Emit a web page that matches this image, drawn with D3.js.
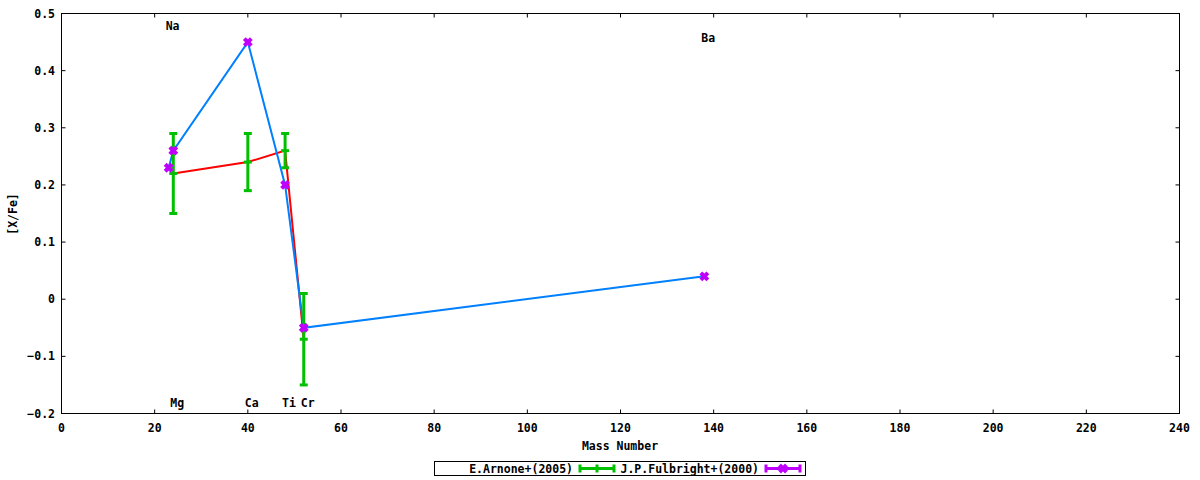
<!DOCTYPE html>
<html><head><meta charset="utf-8">
<script src="https://cdn.jsdelivr.net/npm/d3@7"></script>
<style>
body{margin:0;background:#fff;}
text{font-family:"DejaVu Sans Mono",monospace;font-weight:bold;font-size:11.5px;fill:#000;}
</style></head><body>
<svg id="c" width="1200" height="480"></svg>
<script>
// Data
const arnoneMass = [24, 40, 48, 52];
const arnoneVal  = [0.22, 0.24, 0.26, -0.07];
const arnoneErr  = [0.07, 0.05, 0.03, 0.08];
const fulbrightMass = [23, 24, 40, 48, 52, 138];
const fulbrightVal  = [0.23, 0.26, 0.45, 0.20, -0.05, 0.04];
const elemNames = ["Na", "Mg", "Ca", "Ti", "Cr", "Ba"];
const elemMass  = [23, 24, 40, 48, 52, 138];
const elemLabelY = [0.478, -0.182, -0.182, -0.182, -0.182, 0.457];
const xTicks = [0,20,40,60,80,100,120,140,160,180,200,220,240];
const yTicks = [-0.2,-0.1,0,0.1,0.2,0.3,0.4,0.5];
const seriesNames = ["E.Arnone+(2005)", "J.P.Fulbright+(2000)"];

const L=61.5, R=1179.5, T=13.5, B=413.5;
const svg = d3.select("#c");
const x = d3.scaleLinear().domain([0,240]).range([L,R]);
const y = d3.scaleLinear().domain([-0.2,0.5]).range([B,T]);

const GREEN="#00c000", RED="#ff0000", BLUE="#0080ff", MAG="#c000ff";

// ticks (inward, mirrored)
const tl=4;
const g = svg.append("g");
xTicks.forEach(t=>{
  g.append("line").attr("x1",x(t)).attr("x2",x(t)).attr("y1",B).attr("y2",B-tl).attr("stroke","#000");
  g.append("line").attr("x1",x(t)).attr("x2",x(t)).attr("y1",T).attr("y2",T+tl).attr("stroke","#000");
  g.append("text").attr("x",x(t)).attr("y",432).attr("text-anchor","middle").text(d3.format("d")(t));
});
yTicks.forEach(t=>{
  g.append("line").attr("x1",L).attr("x2",L+tl).attr("y1",y(t)).attr("y2",y(t)).attr("stroke","#000");
  g.append("line").attr("x1",R).attr("x2",R-tl).attr("y1",y(t)).attr("y2",y(t)).attr("stroke","#000");
  const s = t===0 ? "0" : d3.format(".1f")(t);
  g.append("text").attr("x",55).attr("y",y(t)+4).attr("text-anchor","end").text(s);
});

// labels
svg.append("text").attr("x",620).attr("y",450).attr("text-anchor","middle").text("Mass Number");
svg.append("text").attr("transform","translate(17,214) rotate(-90)").attr("text-anchor","middle").text("[X/Fe]");

// element labels
elemNames.forEach((n,i)=>{
  svg.append("text").attr("x",x(elemMass[i])-3).attr("y",y(elemLabelY[i])).attr("dominant-baseline","central").text(n);
});

const line = d3.line().x(d=>x(d[0])).y(d=>y(d[1]));
// Arnone line (red)
const aPts = arnoneMass.map((m,i)=>[m,arnoneVal[i]]);
svg.append("path").attr("d",line(aPts)).attr("fill","none").attr("stroke",RED).attr("stroke-width",2);
// Fulbright line (blue)
const fPts = fulbrightMass.map((m,i)=>[m,fulbrightVal[i]]);
svg.append("path").attr("d",line(fPts)).attr("fill","none").attr("stroke",BLUE).attr("stroke-width",2);

// error bars (green)
const eb = svg.append("g").attr("stroke",GREEN).attr("stroke-width",3);
arnoneMass.forEach((m,i)=>{
  const cx=x(m), y1=y(arnoneVal[i]+arnoneErr[i]), y2=y(arnoneVal[i]-arnoneErr[i]), yc=y(arnoneVal[i]);
  eb.append("line").attr("x1",cx).attr("x2",cx).attr("y1",y1).attr("y2",y2);
  [y1,y2,yc].forEach(yy=>eb.append("line").attr("x1",cx-4).attr("x2",cx+4).attr("y1",yy).attr("y2",yy));
});

// Fulbright markers
function xMark(sel,cx,cy){
  sel.append("path").attr("d",`M${cx-3.5},${cy-3.5}L${cx+3.5},${cy+3.5}M${cx-3.5},${cy+3.5}L${cx+3.5},${cy-3.5}`)
    .attr("stroke",MAG).attr("stroke-width",4).attr("fill","none");
  sel.append("rect").attr("x",cx-2.5).attr("y",cy-2.5).attr("width",5).attr("height",5).attr("fill",MAG);
}
fulbrightMass.forEach((m,i)=>xMark(svg,x(m),y(fulbrightVal[i])));

// frame
svg.append("rect").attr("x",L).attr("y",T).attr("width",R-L).attr("height",B-T).attr("fill","none").attr("stroke","#000").attr("stroke-width",1);

// legend
const lg = svg.append("g");
lg.append("rect").attr("x",434.5).attr("y",461.5).attr("width",371).attr("height",14).attr("fill","none").attr("stroke","#000");
lg.append("text").attr("x",573).attr("y",472.5).attr("text-anchor","end").text(seriesNames[0]);
lg.append("line").attr("x1",580).attr("x2",614).attr("y1",468.5).attr("y2",468.5).attr("stroke",GREEN).attr("stroke-width",3);
[580,597,614].forEach(xx=>lg.append("line").attr("x1",xx).attr("x2",xx).attr("y1",464.5).attr("y2",472.5).attr("stroke",GREEN).attr("stroke-width",3));
lg.append("text").attr("x",759).attr("y",472.5).attr("text-anchor","end").text(seriesNames[1]);
lg.append("line").attr("x1",766).attr("x2",800).attr("y1",468.5).attr("y2",468.5).attr("stroke",MAG).attr("stroke-width",3);
[766,800].forEach(xx=>lg.append("line").attr("x1",xx).attr("x2",xx).attr("y1",464.5).attr("y2",472.5).attr("stroke",MAG).attr("stroke-width",3));
xMark(lg,783,468.5);
</script></body></html>
